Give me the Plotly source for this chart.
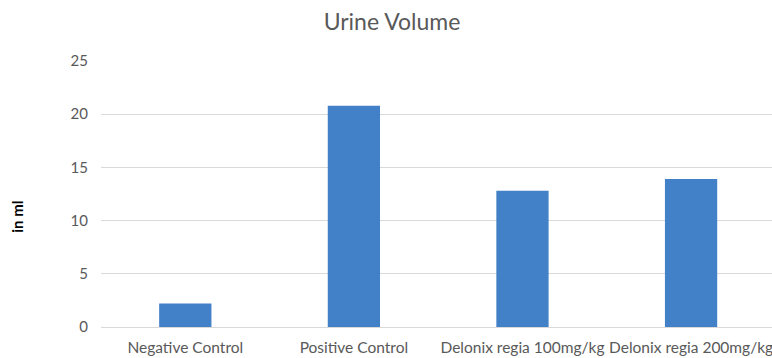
import plotly.graph_objects as go

categories = ["Negative Control", "Positive Control", "Delonix regia 100mg/kg", "Delonix regia 200mg/kg"]
values = [2.2, 20.8, 12.8, 13.9]
y_ticks = [0, 5, 10, 15, 20, 25]

W, H = 772, 358
L, R, T, B = 101, 0, 61, 30.5

fig = go.Figure()
fig.add_trace(go.Bar(
    x=categories, y=values,
    marker=dict(color="#4280c8", line=dict(width=0)),
    width=0.31,
))

font_family = "Lato, Open Sans, sans-serif"
fig.update_layout(
    width=W, height=H,
    margin=dict(l=L, r=R, t=T, b=B, autoexpand=False),
    paper_bgcolor="white", plot_bgcolor="white",
    showlegend=False,
    font=dict(family=font_family, color="#595959", size=15),
    title=dict(text="Urine Volume", x=392 / W, xanchor="center",
               y=1 - 22 / H, yanchor="middle", yref="container",
               font=dict(size=23, color="#595959", family=font_family)),
    xaxis=dict(range=[-0.5, 3.48], showgrid=False, showline=True, linecolor="#d9d9d9",
               linewidth=1, ticks="", tickfont=dict(size=15.5, color="#595959"),
               ticklabelstandoff=6, automargin=False),
    yaxis=dict(range=[0, 25], tickvals=y_ticks, showgrid=True, gridcolor="#d9d9d9",
               gridwidth=1, zeroline=False, showline=False, ticks="",
               tickfont=dict(size=15, color="#595959"), ticklabelstandoff=12,
               automargin=False),
    bargap=0.69,
)
fig.add_annotation(text="<b>in ml</b>", textangle=-90, xref="paper", yref="paper",
                   x=(17 - L) / (W - L - R), y=1 - (217 - T) / (H - T - B),
                   xanchor="center", yanchor="middle", showarrow=False,
                   font=dict(size=15, color="#000000", family=font_family))

fig.write_html("out.html", config={"displayModeBar": False},
               post_script="document.body.style.margin='0';")
